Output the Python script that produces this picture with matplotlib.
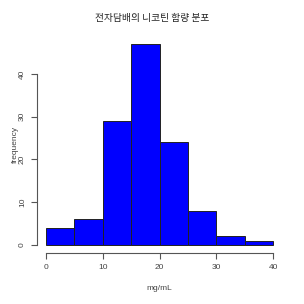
import matplotlib
matplotlib.use("Agg")
import matplotlib.pyplot as plt

plt.rcParams['font.family'] = ['Liberation Sans', 'Noto Sans CJK KR', 'DejaVu Sans']

# histogram bins and counts
bin_edges = [0, 5, 10, 15, 20, 25, 30, 35, 40]
counts = [4, 6, 29, 47, 24, 8, 2, 1]
x_ticks = [0, 10, 20, 30, 40]
y_ticks = [0, 10, 20, 30, 40]

fig = plt.figure(figsize=(3.04, 3.04), dpi=100)
ax = fig.add_axes([0.1217, 0.168, 0.928 - 0.1217, 0.882 - 0.168])

lefts = bin_edges[:-1]
widths = [b - a for a, b in zip(bin_edges[:-1], bin_edges[1:])]
ax.bar(lefts, counts, width=widths, align='edge', color='#0000ff',
       edgecolor='#222222', linewidth=0.7)

ax.set_xlim(-1.6, 41.6)
ax.set_ylim(-1.88, 48.88)

# R style detached axes
for side in ['top', 'right']:
    ax.spines[side].set_visible(False)
ax.spines['left'].set_bounds(0, 40)
ax.spines['bottom'].set_bounds(0, 40)
for side in ['left', 'bottom']:
    ax.spines[side].set_color('#555555')
    ax.spines[side].set_linewidth(0.8)

ax.set_xticks(x_ticks)
ax.set_yticks(y_ticks)
ax.tick_params(direction='out', length=4, width=0.8, color='#555555',
               labelsize=6, labelcolor='#444444', pad=4)
for lab in ax.get_yticklabels():
    lab.set_rotation(90)
    lab.set_va('center')

ax.set_xlabel('mg/mL', fontsize=6, color='#444444', labelpad=10)
ax.set_ylabel('frequency', fontsize=6, color='#444444', labelpad=0)
fig.text(0.5, 0.942, '전자담배의 니코틴 함량 분포', ha='center', va='center',
         fontsize=7, color='#222222', family=['Noto Sans CJK KR', 'DejaVu Sans'])

fig.savefig('out.png', dpi=100)
